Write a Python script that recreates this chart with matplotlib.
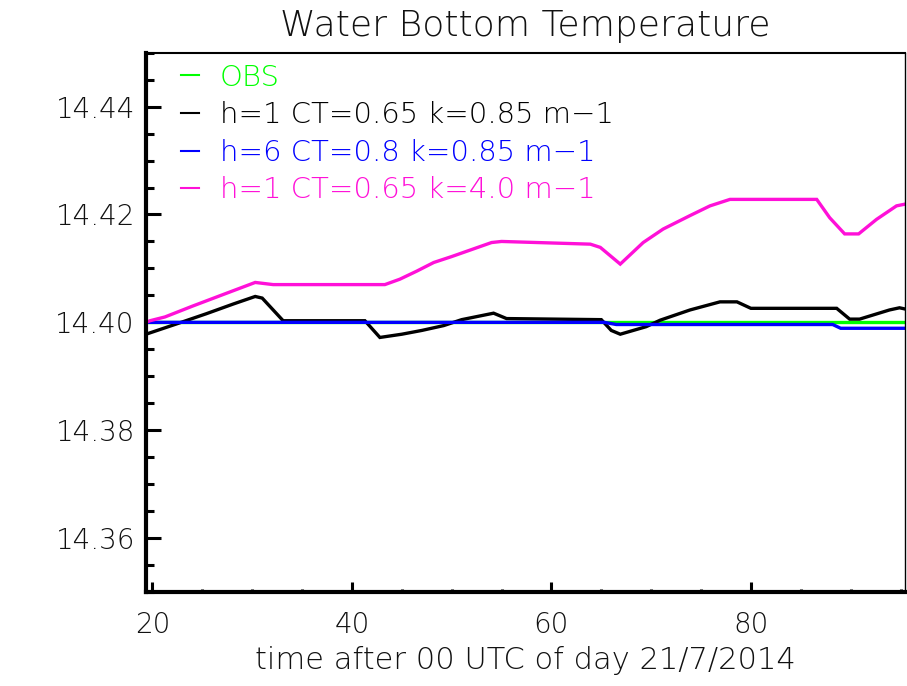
import matplotlib
matplotlib.use("Agg")
import matplotlib.pyplot as plt
from matplotlib.lines import Line2D
from matplotlib.ticker import MultipleLocator, FormatStrFormatter

# ---- data ----
labels = ["OBS", "h=1 CT=0.65 k=0.85 m\u22121", "h=6 CT=0.8 k=0.85 m\u22121",
          "h=1 CT=0.65 k=4.0 m\u22121"]
colors = ["#00ff00", "#000000", "#0000ff", "#ff10d8"]

obs_t = [19.35, 95.4]
obs_v = [14.4000, 14.4000]

black_t = [19.35, 22.4, 25.4, 28.1, 30.3, 31.0, 33.1, 41.3, 42.8, 45.0, 47.0,
           49.2, 51.0, 54.2, 55.5, 65.0, 66.0, 66.9, 69.5, 70.9, 73.9, 75.9,
           76.9, 78.6, 80.0, 88.6, 89.9, 90.9, 93.9, 94.9, 95.4]
black_v = [14.3978, 14.3997, 14.4016, 14.4034, 14.4048, 14.4045, 14.4003,
           14.4003, 14.3972, 14.3978, 14.3985, 14.3994, 14.4005, 14.4017,
           14.4007, 14.4005, 14.3985, 14.3978, 14.3992, 14.4004, 14.4023,
           14.4033, 14.4038, 14.4038, 14.4026, 14.4026, 14.4006, 14.4006,
           14.4023, 14.4027, 14.4025]

blue_t = [19.35, 65.3, 66.5, 88.2, 89.0, 95.4]
blue_v = [14.4000, 14.4000, 14.3996, 14.3996, 14.3989, 14.3989]

mag_t = [19.35, 19.75, 21.25, 24.0, 27.0, 30.3, 32.1, 43.3, 44.8, 46.5, 48.2,
         50.0, 52.0, 54.0, 55.0, 63.9, 64.9, 66.9, 69.2, 71.2, 73.9, 75.9,
         77.9, 86.6, 87.9, 89.4, 90.8, 92.6, 94.6, 95.4]
mag_v = [14.4000, 14.4003, 14.4010, 14.4030, 14.4051, 14.4074, 14.4070,
         14.4070, 14.4080, 14.4095, 14.4111, 14.4122, 14.4135, 14.4148,
         14.4150, 14.4145, 14.4139, 14.4108, 14.4148, 14.4173, 14.4198,
         14.4216, 14.4228, 14.4228, 14.4194, 14.4164, 14.4164, 14.4191,
         14.4216, 14.4219]

x_ticks = [20, 40, 60, 80]
y_ticks = [14.36, 14.38, 14.40, 14.42, 14.44]

title = "Water Bottom Temperature"
xlabel = "time after 00 UTC of day 21/7/2014"

# ---- figure ----
plt.rcParams['font.family'] = ['DejaVu Sans']
plt.rcParams['font.weight'] = 'light'
fig = plt.figure(figsize=(9.07, 6.86), dpi=100)
ax = fig.add_axes([146/907, 1-592/686, (905-146)/907, (592-52.7)/686])

series = [(obs_t, obs_v), (black_t, black_v), (blue_t, blue_v), (mag_t, mag_v)]
for (t, v), c in zip(series, colors):
    ax.plot(t, v, color=c, lw=2.4, solid_joinstyle='miter')

ax.set_xlim(19.35, 95.45)
ax.set_ylim(14.35, 14.45)
ax.xaxis.set_major_locator(MultipleLocator(20))
ax.xaxis.set_minor_locator(MultipleLocator(5))
ax.yaxis.set_major_locator(MultipleLocator(0.02))
ax.yaxis.set_minor_locator(MultipleLocator(0.005))
ax.set_xticks(x_ticks)
ax.set_yticks(y_ticks)
ax.yaxis.set_major_formatter(FormatStrFormatter('%.2f'))

ax.tick_params(axis='y', which='major', direction='in', length=11, width=2.2,
               labelsize=20, pad=8, left=True, right=False, labelcolor='#111111')
ax.tick_params(axis='y', which='minor', direction='in', length=6, width=2.2,
               left=True, right=False)
ax.tick_params(axis='x', which='major', direction='in', length=7, width=2.2,
               labelsize=20, pad=14, bottom=True, top=False, labelcolor='#111111')
ax.tick_params(axis='x', which='minor', direction='in', length=2.5, width=2.2,
               bottom=True, top=False)

ax.spines['left'].set_linewidth(3.0)
ax.spines['bottom'].set_linewidth(3.0)
ax.spines['top'].set_linewidth(1.5)
ax.spines['right'].set_linewidth(1.0)

ax.set_title(title, fontsize=26, pad=12, color='#111111', fontweight='light')
ax.set_xlabel(xlabel, fontsize=22, labelpad=5, color='#111111',
              fontweight='light')

handles = [Line2D([], [], color=c, lw=1.5) for c in colors]
leg = ax.legend(handles, labels, loc='upper left', bbox_to_anchor=(0.035, 0.996),
                frameon=False, fontsize=21, handlelength=0.62,
                handletextpad=0.7, labelspacing=0.33, borderpad=0,
                borderaxespad=0.3, labelcolor='linecolor')

fig.savefig("out.png", dpi=100)
